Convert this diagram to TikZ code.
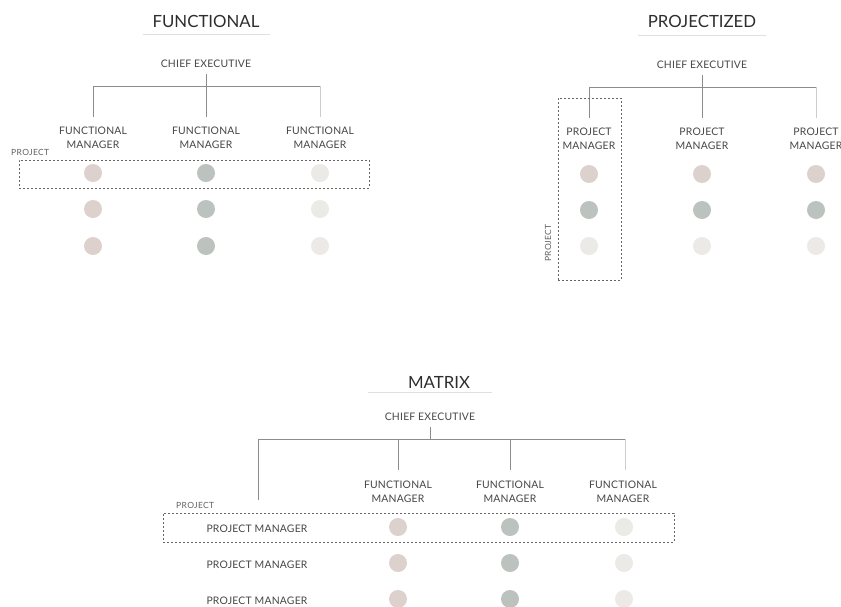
\documentclass[tikz,border=0pt]{standalone}
\usepackage{fontspec}
\setmainfont{Lato}
\newfontfamily\lblfont[LetterSpace=2]{Lato}
\newfontfamily\smlfont[LetterSpace=4]{Lato}
\begin{document}
\begin{tikzpicture}[x=1pt,y=-1pt,
  txt/.style={text=black!72, inner sep=0pt, font=\lblfont\fontsize{10.4}{14}\selectfont, align=center},
  ttl/.style={text=black!82, inner sep=0pt, font=\fontsize{16.8}{18}\selectfont},
  small/.style={text=black!62, inner sep=0pt, font=\smlfont\fontsize{8.5}{9}\selectfont},
  uline/.style={draw=black!12, line width=0.8pt},
  conn/.style={draw=black!45, line width=0.7pt},
  connl/.style={draw=black!20, line width=0.9pt},
  proj/.style={draw=black!60, dash pattern=on 2pt off 2pt, line width=0.7pt},
  dotA/.style={circle, fill=pinkc, minimum size=18pt, inner sep=0pt},
  dotB/.style={circle, fill=grayc, minimum size=18pt, inner sep=0pt},
  dotC/.style={circle, fill=lightc, minimum size=18pt, inner sep=0pt}]
\definecolor{pinkc}{HTML}{DDD1CD}
\definecolor{grayc}{HTML}{BCC2BE}
\definecolor{lightc}{HTML}{EBEAE6}
\useasboundingbox[fill=white] (0,0) rectangle (841,606);
\clip (0,0) rectangle (841,606);

% ================= FUNCTIONAL =================
\node[ttl] (f-title) at (206,21) {FUNCTIONAL};
\coordinate (f-ul1) at (143,34); \coordinate (f-ul2) at (270,34);
\draw[uline] (f-ul1) -- (f-ul2);
\node[txt] (f-ce) at (206,64) {CHIEF EXECUTIVE};
\coordinate (f-top) at (206,74);
\coordinate (f-b1) at (93,86); \coordinate (f-b2) at (206,86); \coordinate (f-b3) at (320,86);
\coordinate (f-e1) at (93,117); \coordinate (f-e2) at (206,117); \coordinate (f-e3) at (320,117);
\draw[conn] (f-top) -- (f-e2);
\draw[conn] (f-b1) -- (f-b3);
\draw[conn] (f-b1) -- (f-e1);
\draw[connl] (f-b3) -- (f-e3);
\node[txt] (f-m1) at (93,138) {FUNCTIONAL\\MANAGER};
\node[txt] (f-m2) at (206,138) {FUNCTIONAL\\MANAGER};
\node[txt] (f-m3) at (320,138) {FUNCTIONAL\\MANAGER};
\node[small, anchor=west] (f-proj) at (11,152) {PROJECT};
\node[proj, minimum width=350pt, minimum height=28pt, inner sep=0pt] (f-box) at (194,174) {};
\foreach \r/\y in {1/173,2/209,3/246}{
  \node[dotA] (f-a\r) at (93,\y) {};
  \node[dotB] (f-b\r) at (206,\y) {};
  \node[dotC] (f-c\r) at (320,\y) {};
}

% ================= PROJECTIZED =================
\node[ttl] (p-title) at (702,21) {PROJECTIZED};
\coordinate (p-ul1) at (638,35); \coordinate (p-ul2) at (766,35);
\draw[uline] (p-ul1) -- (p-ul2);
\node[txt] (p-ce) at (702,65) {CHIEF EXECUTIVE};
\coordinate (p-top) at (702,75);
\coordinate (p-b1) at (589,87); \coordinate (p-b2) at (702,87); \coordinate (p-b3) at (816,87);
\coordinate (p-e1) at (589,118); \coordinate (p-e2) at (702,118); \coordinate (p-e3) at (816,118);
\draw[conn] (p-top) -- (p-e2);
\draw[conn] (p-b1) -- (p-b3);
\draw[conn] (p-b1) -- (p-e1);
\draw[connl] (p-b3) -- (p-e3);
\node[txt] (p-m1) at (589,139) {PROJECT\\MANAGER};
\node[txt] (p-m2) at (702,139) {PROJECT\\MANAGER};
\node[txt] (p-m3) at (816,139) {PROJECT\\MANAGER};
\node[proj, minimum width=63pt, minimum height=182pt, inner sep=0pt] (p-box) at (589.5,189) {};
\node[small, rotate=90] (p-proj) at (548,243) {PROJECT};
\node[dotA] (p-1a) at (589,174) {};
\node[dotA] (p-2a) at (702,174) {};
\node[dotA] (p-3a) at (816,174) {};
\node[dotB] (p-1b) at (589,210) {};
\node[dotB] (p-2b) at (702,210) {};
\node[dotB] (p-3b) at (816,210) {};
\node[dotC] (p-1c) at (589,246) {};
\node[dotC] (p-2c) at (702,246) {};
\node[dotC] (p-3c) at (816,246) {};

% ================= MATRIX =================
\node[ttl] (m-title) at (439,382) {MATRIX};
\coordinate (m-ul1) at (368,392); \coordinate (m-ul2) at (492,392);
\draw[uline] (m-ul1) -- (m-ul2);
\node[txt] (m-ce) at (430,417) {CHIEF EXECUTIVE};
\coordinate (m-top) at (430,427); \coordinate (m-bc) at (430,439);
\coordinate (m-b0) at (258,439); \coordinate (m-b1) at (398,439);
\coordinate (m-b2) at (510,439); \coordinate (m-b3) at (625,439);
\coordinate (m-e0) at (258,500); \coordinate (m-e1) at (398,470);
\coordinate (m-e2) at (510,470); \coordinate (m-e3) at (625,470);
\draw[conn] (m-top) -- (m-bc);
\draw[conn] (m-b0) -- (m-b3);
\draw[conn] (m-b0) -- (m-e0);
\draw[conn] (m-b1) -- (m-e1);
\draw[conn] (m-b2) -- (m-e2);
\draw[connl] (m-b3) -- (m-e3);
\node[txt] (m-m1) at (398,492) {FUNCTIONAL\\MANAGER};
\node[txt] (m-m2) at (510,492) {FUNCTIONAL\\MANAGER};
\node[txt] (m-m3) at (623,492) {FUNCTIONAL\\MANAGER};
\node[small, anchor=west] (m-proj) at (176,505) {PROJECT};
\node[proj, minimum width=511pt, minimum height=29pt, inner sep=0pt] (m-box) at (418.5,527.5) {};
\foreach \r/\y in {1/527,2/563,3/599}{
  \node[txt] (m-pm\r) at (257,\y+2) {PROJECT MANAGER};
  \node[dotA] (m-a\r) at (398,\y) {};
  \node[dotB] (m-b\r) at (510,\y) {};
  \node[dotC] (m-c\r) at (624,\y) {};
}
\end{tikzpicture}
\end{document}
